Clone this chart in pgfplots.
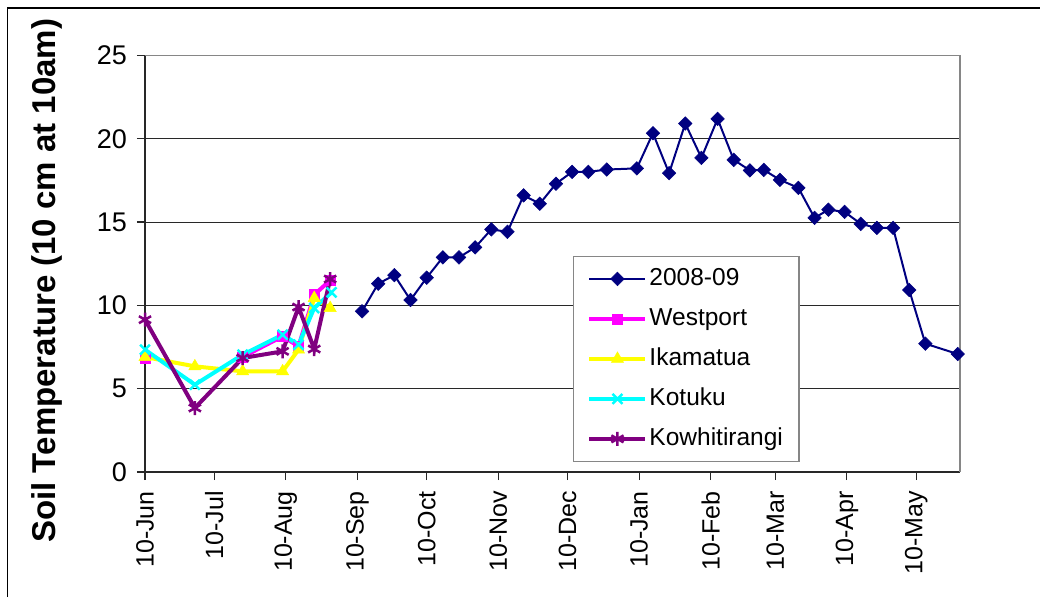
\documentclass[border=0pt]{standalone}
\usepackage{fontspec}
\setmainfont{Liberation Sans}
\usepackage{pgfplots}
\pgfplotsset{compat=1.18}
\definecolor{navyc}{RGB}{0,0,128}
\definecolor{purplec}{RGB}{128,0,128}
\definecolor{magc}{RGB}{255,0,255}
\definecolor{yelc}{RGB}{255,255,0}
\definecolor{cyanc}{RGB}{0,255,255}
\definecolor{gridc}{RGB}{40,40,40}
\definecolor{borderc}{RGB}{134,134,134}
\begin{document}
\begin{tikzpicture}
\path[use as bounding box] (0pt,0pt) rectangle (1040pt,597pt);
\draw[black, line width=1.2pt] (7.5pt,0pt) -- (7.5pt,589pt) -- (1040pt,589pt);
\begin{axis}[
  at={(145pt,125pt)}, anchor=south west,
  scale only axis, width=815pt, height=416.6pt,
  xmin=0, xmax=353, ymin=0, ymax=25,
  clip=false,
  axis x line*=bottom, axis y line*=left,
  axis line style={line width=1.3pt, draw=gridc},
  xtick={0,30,61,92,122,153,183,214,245,273,304,334},
  xticklabels={10-Jun,10-Jul,10-Aug,10-Sep,10-Oct,10-Nov,10-Dec,10-Jan,10-Feb,10-Mar,10-Apr,10-May},
  ytick={0,5,10,15,20,25},
  tick align=outside, major tick length=8pt,
  tick style={line width=1.1pt, draw=gridc},
  ymajorgrids, grid style={line width=1pt, draw=gridc},
  /pgf/number format/assume math mode=true,
  x tick label style={font=\fontsize{25}{27}\selectfont, rotate=90, anchor=east, inner xsep=11pt, inner ysep=3pt},
  y tick label style={font=\fontsize{27}{29}\selectfont, inner xsep=10pt, inner ysep=3pt},
  ylabel={Soil Temperature (10 cm at 10am)},
  every axis y label/.style={at={(rel axis cs:0,0.5)}, xshift=-98pt, yshift=-17pt, rotate=90, anchor=center, font=\fontsize{33}{35}\selectfont\bfseries},
  legend image code/.code={\draw[mark repeat=2,mark phase=2,#1] plot coordinates {(0pt,0pt) (28pt,0pt) (56pt,0pt)};},
  legend cell align=left,
  legend style={at={(0.525,0.519)}, anchor=north west, draw=borderc, line width=1.2pt,
    inner xsep=14pt, inner ysep=9pt, row sep=13pt,
    nodes={text height=18pt, text depth=5pt, inner sep=2pt},
    font=\fontsize{24.5}{26}\selectfont,
    /tikz/every even column/.append style={column sep=5pt}},
  unbounded coords=jump,
]
\addplot[color=navyc, line width=2pt, mark=square*, mark size=4.8pt, mark options={rotate=45, fill=navyc, line width=0.5pt}] table {
x y
94 9.64
101 11.30
108 11.81
115 10.32
122 11.66
129 12.88
136 12.88
143 13.48
150 14.56
157 14.41
164 16.60
171 16.10
178 17.30
185 18.01
192 18.01
200 18.15
213 18.22
220 20.33
227 17.93
234 20.91
241 18.85
248 21.19
255 18.73
262 18.10
268 18.13
275 17.53
283 17.05
290 15.25
296 15.74
303 15.61
310 14.89
317 14.65
324 14.65
331 10.92
338 7.70
352 7.08
};
\addlegendentry{2008-09}
\addplot[color=magc, line width=4pt, mark=square*, mark size=5pt, mark options={fill=magc, line width=0.5pt}] table {
x y
0 6.80
21.6 nan
42.3 6.90
59.6 8.14
66.5 7.54
73.3 10.64
80.2 11.50
};
\addlegendentry{Westport}
\addplot[color=yelc, line width=4pt, mark=triangle*, mark size=7pt, mark options={fill=yelc, line width=0.5pt}] table {
x y
0 6.90
21.6 6.34
42.3 6.04
59.6 6.04
66.5 7.34
73.3 10.44
80.2 9.84
};
\addlegendentry{Ikamatua}
\addplot[color=cyanc, line width=4pt, mark=x, mark size=7pt, mark options={line width=2.5pt}] table {
x y
0 7.34
21.6 5.24
42.3 7.04
59.6 8.24
66.5 7.64
73.3 9.84
80.8 10.78
};
\addlegendentry{Kotuku}
\addplot[color=purplec, line width=4pt, mark=asterisk, mark size=7pt, mark options={line width=2.5pt}] table {
x y
0 9.14
21.6 3.84
42.3 6.84
59.6 7.24
66.5 9.90
73.3 7.38
80.2 11.58
};
\addlegendentry{Kowhitirangi}
\draw[borderc, line width=1.3pt] (rel axis cs:0,1) -- (rel axis cs:1,1) -- (rel axis cs:1,0);
\end{axis}
\end{tikzpicture}
\end{document}
